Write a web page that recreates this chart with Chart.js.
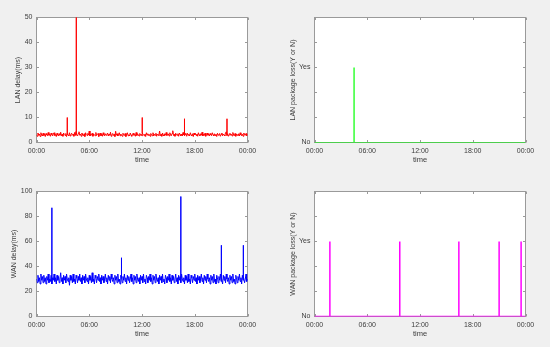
<!DOCTYPE html>
<html><head><meta charset="utf-8">
<script src="https://cdn.jsdelivr.net/npm/chart.js@4.4.0/dist/chart.umd.min.js"></script>
<style>
html,body{margin:0;padding:0;background:#f0f0f0;width:550px;height:347px;overflow:hidden;}
canvas{position:absolute;}
</style></head><body>
<canvas id="c1" width="275" height="170" style="left:0;top:0"></canvas>
<canvas id="c2" width="275" height="170" style="left:275px;top:0"></canvas>
<canvas id="c3" width="275" height="170" style="left:0;top:174px"></canvas>
<canvas id="c4" width="275" height="170" style="left:275px;top:174px"></canvas>
<script>
// ---- data ----
const sampleMinutes = 5; // one sample every 5 minutes, 00:00 .. 24:00 (one row per hour)
const lanDelay = [
 3.1,2.5,3.8,2.9,3.4,2.4,3.9,3.0,2.6,3.7,2.8,3.5,
 2.4,3.6,3.0,2.7,4.0,2.9,3.3,2.5,3.8,3.1,2.6,3.4,
 3.9,2.8,3.2,2.4,3.7,3.0,2.6,3.5,2.9,4.1,2.7,3.3,
 2.5,3.8,3.1,2.8,3.6,2.4,3.4,3.0,2.7,3.9,2.6,3.2,
 3.7,2.9,3.3,2.5,4.0,2.8,4.4,3.1,2.6,3.6,4.3,2.9,
 3.4,2.5,3.8,3.0,2.7,3.5,2.4,3.9,3.1,2.8,3.6,3.0,
 4.6,2.6,3.3,2.9,3.7,2.5,3.4,3.0,2.7,4.0,2.8,3.2,
 3.6,2.4,3.1,3.8,2.7,3.3,2.5,3.9,3.0,2.6,3.5,2.9,
 3.2,3.8,2.6,3.4,2.9,4.1,2.5,3.1,3.6,2.8,3.3,2.4,
 4.5,2.9,3.5,2.6,3.2,3.9,2.7,3.4,3.0,2.5,3.7,3.1,
 2.8,3.6,2.4,3.3,3.9,2.7,3.1,2.6,3.8,3.0,2.5,3.4,
 3.7,2.9,3.2,2.5,4.0,2.8,3.5,3.0,2.6,3.6,2.9,3.3,
 2.6,3.8,3.1,2.7,3.4,2.4,3.9,3.0,3.5,2.8,3.2,2.5,
 3.6,3.0,2.7,3.9,2.6,3.3,2.9,3.7,2.5,3.4,3.1,2.8,
 4.6,2.7,3.3,2.5,3.8,3.0,2.6,3.5,2.9,4.0,2.8,3.2,
 3.4,2.6,3.9,3.1,2.7,3.6,4.7,2.8,3.3,2.5,3.7,3.0,
 2.9,3.5,2.5,3.8,3.2,2.7,3.4,2.6,4.0,3.0,2.8,3.6,
 3.1,2.5,3.7,2.9,3.3,2.6,3.9,3.0,2.7,3.5,2.4,3.8,
 3.0,3.6,2.8,3.4,2.5,3.9,3.1,2.7,3.5,2.9,4.1,2.6,
 3.3,2.8,3.7,2.5,3.2,3.8,2.9,3.4,2.6,3.6,3.0,2.7,
 3.9,3.1,2.6,3.5,2.8,3.3,2.4,3.7,3.0,2.9,3.6,2.5,
 3.2,3.8,2.7,3.4,3.0,2.6,3.9,4.3,2.8,3.5,2.5,3.1,
 3.7,2.9,3.3,2.6,4.0,3.0,2.7,3.6,2.5,3.4,3.1,2.8,
 3.5,2.6,3.9,3.0,2.7,3.3,2.5,3.8,3.1,2.9,3.6,2.7,
 3.2
];
const lanSpikeHours = [3.5, 4.5, 12.0, 16.8333, 21.6667];
const lanSpikePeaks = [10, 55, 10, 9.5, 9.5];

const wanDelay = [
 30,27,33,28,31,26,34,29,32,27,33,28,
 31,26,32,29,34,27,30,28,33,26,31,29,
 34,28,31,26,33,29,32,27,30,35,28,31,
 26,33,29,32,27,34,30,28,31,25,33,29,
 32,27,34,28,30,26,33,31,27,32,29,34,
 28,31,26,33,29,32,27,34,30,28,31,26,
 33,29,32,27,35,28,30,26,33,31,27,32,
 29,34,28,31,26,33,29,32,27,30,34,28,
 31,26,33,29,32,27,34,30,28,31,26,33,
 29,32,27,34,28,30,26,33,31,27,32,29,
 34,28,31,26,33,29,32,27,30,34,28,31,
 26,33,29,32,27,34,30,28,31,26,33,29,
 32,27,34,28,30,26,33,31,27,32,29,34,
 28,31,26,33,29,32,27,34,30,28,31,26,
 33,29,32,27,34,28,30,26,33,31,27,32,
 29,34,28,31,26,33,29,32,27,30,34,28,
 31,26,33,29,32,27,34,30,28,31,26,33,
 29,32,27,34,28,30,26,33,31,27,32,29,
 34,28,31,26,33,29,32,27,30,34,28,31,
 26,33,29,32,27,34,30,28,31,26,33,29,
 32,27,34,28,30,26,33,31,27,32,29,34,
 28,31,26,33,29,32,27,34,30,28,31,26,
 33,29,32,27,34,28,30,26,33,31,27,32,
 29,34,28,31,26,33,29,32,27,30,34,28,
 30
];
const wanSpikeHours = [1.75, 9.6667, 16.4167, 21.0, 23.5];
const wanSpikePeaks = [87, 47, 96, 57, 57];

const lanLossHours  = [0, 4.5, 4.5, 4.5, 24];
const lanLossValues = [0, 0,   1,   0,   0];
const wanLossHours  = [0, 1.75,1.75,1.75, 9.7,9.7,9.7, 16.42,16.42,16.42, 21.0,21.0,21.0, 23.5,23.5,23.5, 24];
const wanLossValues = [0, 0,1,0, 0,1,0, 0,1,0, 0,1,0, 0,1,0, 0];

const xTickHours  = [0, 6, 12, 18, 24];
const xTickLabels = ['00:00','06:00','12:00','18:00','00:00'];
const lanDelayTicks = [0,10,20,30,40,50];
const wanDelayTicks = [0,20,40,60,80,100];
const lossTicks = [0,1/3,2/3,1,4/3,5/3];
const lossTickLabels = ['No','','','Yes','',''];

// ---- rendering ----
Chart.defaults.font.family = "'Liberation Sans', Arial, sans-serif";
Chart.defaults.font.size = 7;
Chart.defaults.color = '#3c3c3c';

// sampled series plus single-sample spikes drawn as vertical strokes at their sample time
function delayPoints(vals, spikeHours, spikePeaks){
  const perHour = 60 / sampleMinutes;
  const spikeAt = {};
  spikeHours.forEach((h, k) => { spikeAt[Math.round(h * perHour)] = spikePeaks[k]; });
  const pts = [];
  vals.forEach((v, i) => {
    const t = i / perHour;
    pts.push({x: t, y: v});
    if (spikeAt[i] !== undefined) { pts.push({x: t, y: spikeAt[i]}); pts.push({x: t, y: v}); }
  });
  return pts;
}
function pairPoints(xs, ys){ return xs.map((x,i)=>({x: x, y: ys[i]})); }

const framePlugin = {
  id: 'frame',
  beforeDraw(chart){
    const {ctx, chartArea:a} = chart;
    ctx.save(); ctx.fillStyle = '#ffffff';
    ctx.fillRect(a.left, a.top, a.right-a.left, a.bottom-a.top);
    ctx.restore();
  },
  beforeDatasetsDraw(chart){
    const {ctx, chartArea:a, scales} = chart;
    const x = scales.x, y = scales.y;
    ctx.save();
    ctx.strokeStyle = '#9a9a9a'; ctx.lineWidth = 1;
    ctx.strokeRect(a.left, a.top, a.right-a.left, a.bottom-a.top);
    ctx.beginPath();
    const L = 2.5;
    x.ticks.forEach(t=>{
      const px = Math.round(x.getPixelForValue(t.value)) + 0.5;
      ctx.moveTo(px, a.bottom); ctx.lineTo(px, a.bottom - L);
      ctx.moveTo(px, a.top); ctx.lineTo(px, a.top + L);
    });
    y.ticks.forEach(t=>{
      const py = Math.round(y.getPixelForValue(t.value) - 0.5) + 0.5;
      ctx.moveTo(a.left, py); ctx.lineTo(a.left + L, py);
      ctx.moveTo(a.right, py); ctx.lineTo(a.right - L, py);
    });
    ctx.stroke();
    ctx.restore();
  }
};

function makeChart(id, cfg){
  new Chart(document.getElementById(id), {
    type: 'line',
    data: { datasets: [{
      data: cfg.points, borderColor: cfg.color, borderWidth: cfg.lw || 1,
      pointRadius: 0, tension: 0, fill: false
    }]},
    options: {
      responsive: false, animation: false,
      layout: { padding: { left: 0, top: 17.5, right: cfg.padRight, bottom: 0 } },
      plugins: { legend: {display:false}, tooltip: {enabled:false} },
      scales: {
        x: {
          type: 'linear', min: 0, max: 24,
          afterBuildTicks: s => { s.ticks = xTickHours.map(v=>({value:v})); },
          afterFit: s => { s.height = 27.5; },
          grid: { display: false, drawTicks: false },
          border: { display: false },
          ticks: { autoSkip: false, maxRotation: 0, padding: 4,
                   callback: (v, i) => xTickLabels[i] },
          title: { display: true, text: 'time', font: {size: 7.5}, padding: {top:0, bottom: 5.8} }
        },
        y: {
          type: 'linear', min: cfg.yMin, max: cfg.yMax,
          afterBuildTicks: s => { s.ticks = cfg.yTicks.map(v=>({value:v})); },
          afterFit: s => { s.width = cfg.yWidth; },
          grid: { display: false, drawTicks: false },
          border: { display: false },
          ticks: { autoSkip: false, padding: 4,
                   callback: (v, i) => cfg.yLabels[i] },
          title: { display: true, text: cfg.yTitle, font: {size: 7}, padding: {top: cfg.titlePad, bottom: 0} }
        }
      }
    },
    plugins: [framePlugin]
  });
}

makeChart('c1', {
  points: delayPoints(lanDelay, lanSpikeHours, lanSpikePeaks), color: '#ff0000',
  yMin: 0, yMax: 50, yTicks: lanDelayTicks, yLabels: lanDelayTicks.map(String),
  yTitle: 'LAN delay(ms)', yWidth: 36.5, padRight: 27.5, titlePad: 14.1
});
makeChart('c2', {
  points: pairPoints(lanLossHours, lanLossValues), color: '#00ff00', lw: 1.2,
  yMin: 0, yMax: 5/3, yTicks: lossTicks, yLabels: lossTickLabels,
  yTitle: 'LAN package loss(Y or N)', yWidth: 39.5, padRight: 24.5, titlePad: 13.8
});
makeChart('c3', {
  points: delayPoints(wanDelay, wanSpikeHours, wanSpikePeaks), color: '#0000ff',
  yMin: 0, yMax: 100, yTicks: wanDelayTicks, yLabels: wanDelayTicks.map(String),
  yTitle: 'WAN delay(ms)', yWidth: 36.5, padRight: 27.5, titlePad: 9.8
});
makeChart('c4', {
  points: pairPoints(wanLossHours, wanLossValues), color: '#ff00ff', lw: 1.5,
  yMin: 0, yMax: 5/3, yTicks: lossTicks, yLabels: lossTickLabels,
  yTitle: 'WAN package loss(Y or N)', yWidth: 39.5, padRight: 24.5, titlePad: 13.8
});
</script>
</body></html>
